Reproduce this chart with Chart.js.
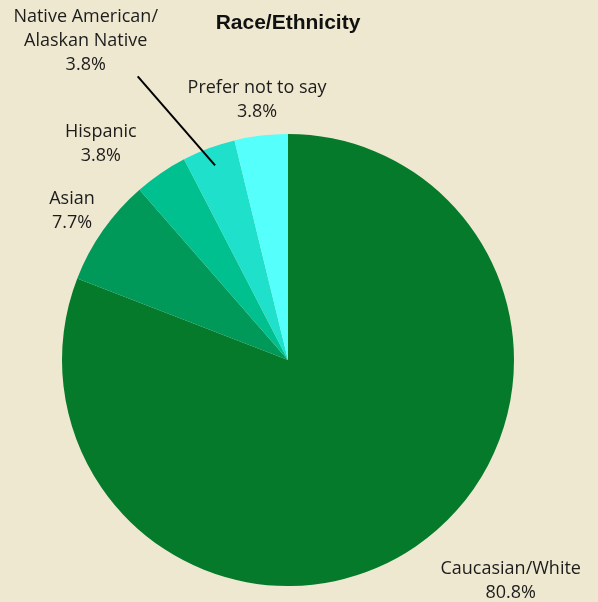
<!DOCTYPE html>
<html>
<head>
<meta charset="utf-8">
<script src="https://cdn.jsdelivr.net/npm/chart.js@4"></script>
<style>
    html, body { margin: 0; padding: 0; background: #efe8d0; }
    canvas { display: block; }
</style>
</head>
<body>
<canvas id="raceChart" width="598" height="602"></canvas>
<script>
const raceLabels = [['Caucasian/White'], ['Asian'], ['Hispanic'], ['Native American/', 'Alaskan Native'], ['Prefer not to say']];
const racePercents = [80.8, 7.7, 3.8, 3.8, 3.8];
const raceColors = ['#047a2a', '#00995a', '#00c08f', '#1ee0cb', '#54fffc'];

// label centre offsets from each slice's outer edge midpoint
const labelOffsets = [[95, 34], [-31, -19], [-60, -29], [-123, -107], [-4, -36]];

const sliceLabels = {
    id: 'sliceLabels',
    afterDraw(chart) {
        const ctx = chart.ctx;
        const meta = chart.getDatasetMeta(0);
        ctx.save();
        ctx.font = '18px "Open Sans"';
        ctx.fillStyle = '#1c1c1c';
        ctx.textAlign = 'center';
        ctx.textBaseline = 'middle';
        meta.data.forEach(function (arc, i) {
            const p = arc.getProps(['x', 'y', 'startAngle', 'endAngle', 'outerRadius'], true);
            const mid = (p.startAngle + p.endAngle) / 2;
            const ex = p.x + Math.cos(mid) * p.outerRadius;
            const ey = p.y + Math.sin(mid) * p.outerRadius;
            const cx = ex + labelOffsets[i][0];
            const cy = ey + labelOffsets[i][1];
            const lines = raceLabels[i].concat([racePercents[i].toFixed(1) + '%']);
            const top = cy - (lines.length - 1) * 12;
            lines.forEach(function (line, j) {
                ctx.fillText(line, cx, top + j * 24);
            });
            //Leader line for the small native american slice.
            if (i === 3) {
                ctx.strokeStyle = '#000000';
                ctx.lineWidth = 2;
                ctx.beginPath();
                ctx.moveTo(cx + 52, cy + 35);
                ctx.lineTo(p.x + Math.cos(mid) * p.outerRadius * 0.92, p.y + Math.sin(mid) * p.outerRadius * 0.92);
                ctx.stroke();
            }
        });
        ctx.restore();
    }
};

new Chart(document.getElementById('raceChart'), {
    type: 'pie',
    data: {
        labels: raceLabels.map(function (l) { return l.join(' '); }),
        datasets: [{
            data: racePercents,
            backgroundColor: raceColors,
            borderWidth: 0
        }]
    },
    options: {
        responsive: false,
        animation: false,
        layout: {
            padding: { top: 134, bottom: 16, left: 62, right: 84 }
        },
        plugins: {
            legend: { display: false },
            tooltip: { enabled: false },
            title: {
                display: true,
                text: 'Race/Ethnicity',
                color: '#111111',
                font: { family: '"Liberation Sans", Arial', size: 21, weight: 'bold' },
                padding: { top: -123, bottom: 0 }
            }
        }
    },
    plugins: [sliceLabels]
});
</script>
</body>
</html>
